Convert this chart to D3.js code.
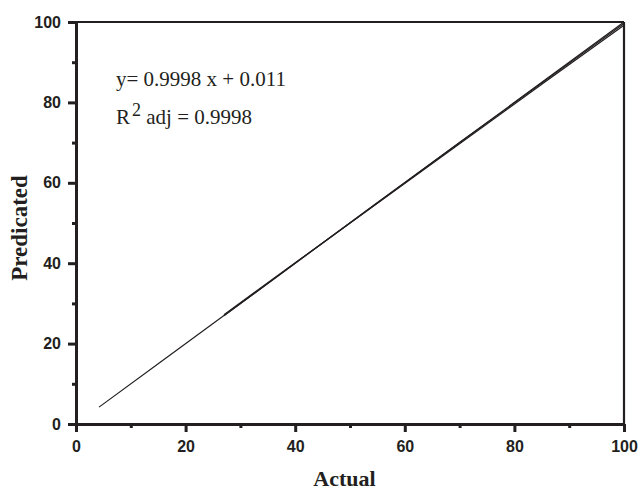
<!DOCTYPE html>
<html>
<head>
<meta charset="utf-8">
<script src="https://cdn.jsdelivr.net/npm/d3@7"></script>
<style>
  body { margin: 0; background: #fff; }
  svg { display: block; }
</style>
</head>
<body>
<svg width="640" height="491"></svg>
<script>
const WIDTH = 640;
const HEIGHT = 491;
const MARGIN = { top: 22, right: 16, bottom: 67, left: 76 };
const INK = "#231f20";

// training / test / fit traces (actual vs predicted)
const actualA = [4.2, 15, 27, 40, 55, 70, 85, 100];
const predictedA = [4.2, 15.0, 27.0, 40.0, 55.0, 70.0, 85.0, 100];
const actualB = [27, 40, 55, 70, 85, 100];
const predictedB = [27.2, 40.1, 54.9, 69.7, 84.5, 99.2];
const actualC = [27, 40, 55, 70, 85, 100];
const predictedC = [26.9, 40.0, 55.1, 70.0, 84.8, 99.6];

const majorTicks = [0, 20, 40, 60, 80, 100];
const minorTicks = [10, 30, 50, 70, 90];

const svg = d3.select("svg");
const innerW = WIDTH - MARGIN.left - MARGIN.right;
const innerH = HEIGHT - MARGIN.top - MARGIN.bottom;

const x = d3.scaleLinear().domain([0, 100]).range([MARGIN.left, MARGIN.left + innerW]);
const y = d3.scaleLinear().domain([0, 100]).range([MARGIN.top + innerH, MARGIN.top]);

function drawSeries(xs, ys) {
  const pts = xs.map((v, i) => [v, ys[i]]);
  svg.append("path")
    .datum(pts)
    .attr("fill", "none")
    .attr("stroke", INK)
    .attr("stroke-width", 1.2)
    .attr("d", d3.line().x(d => x(d[0])).y(d => y(d[1])));
}

drawSeries(actualB, predictedB);
drawSeries(actualC, predictedC);
drawSeries(actualA, predictedA);

// frame: top and right lines
svg.append("line")
  .attr("x1", x(0)).attr("x2", x(100))
  .attr("y1", y(100)).attr("y2", y(100))
  .attr("stroke", INK).attr("stroke-width", 2.2);
svg.append("line")
  .attr("x1", x(100)).attr("x2", x(100))
  .attr("y1", y(0)).attr("y2", y(100))
  .attr("stroke", INK).attr("stroke-width", 2.2);

// bottom axis
svg.append("g")
  .attr("transform", `translate(0,${y(0)})`)
  .call(d3.axisBottom(x).tickValues(majorTicks).tickSize(8).tickPadding(9).tickSizeOuter(0));
svg.append("g")
  .attr("transform", `translate(0,${y(0)})`)
  .call(d3.axisBottom(x).tickValues(minorTicks).tickSize(4).tickFormat("").tickSizeOuter(0))
  .select(".domain").remove();

// left axis
svg.append("g")
  .attr("transform", `translate(${x(0)},0)`)
  .call(d3.axisLeft(y).tickValues(majorTicks).tickSize(8).tickPadding(7).tickSizeOuter(0));
svg.append("g")
  .attr("transform", `translate(${x(0)},0)`)
  .call(d3.axisLeft(y).tickValues(minorTicks).tickSize(4).tickFormat("").tickSizeOuter(0))
  .select(".domain").remove();

svg.selectAll(".domain").attr("stroke", INK).attr("stroke-width", 3);
svg.selectAll(".tick line").attr("stroke", INK).attr("stroke-width", 3);
svg.selectAll(".tick text")
  .attr("fill", INK)
  .style("font-family", "Liberation Sans, Arial, sans-serif")
  .style("font-weight", "bold")
  .style("font-size", "16px");

// axis titles
svg.append("text")
  .attr("x", x(49))
  .attr("y", 486)
  .attr("text-anchor", "middle")
  .attr("fill", INK)
  .style("font-family", "Liberation Serif, Times New Roman, serif")
  .style("font-weight", "bold")
  .style("font-size", "22px")
  .text("Actual");

svg.append("text")
  .attr("transform", `translate(27,228) rotate(-90)`)
  .attr("text-anchor", "middle")
  .attr("fill", INK)
  .style("font-family", "Liberation Serif, Times New Roman, serif")
  .style("font-weight", "bold")
  .style("font-size", "23px")
  .text("Predicated");

// regression annotation
const note = svg.append("g")
  .attr("fill", INK)
  .style("font-family", "Liberation Serif, Times New Roman, serif")
  .style("font-size", "21px");
note.append("text")
  .attr("x", 116).attr("y", 86)
  .text("y= 0.9998 x + 0.011");
const r2 = note.append("text").attr("x", 116).attr("y", 124);
r2.append("tspan").text("R");
r2.append("tspan").attr("dx", 2).attr("dy", -8).style("font-size", "18px").text("2");
r2.append("tspan").attr("dy", 8).text(" adj = 0.9998");
</script>
</body>
</html>
